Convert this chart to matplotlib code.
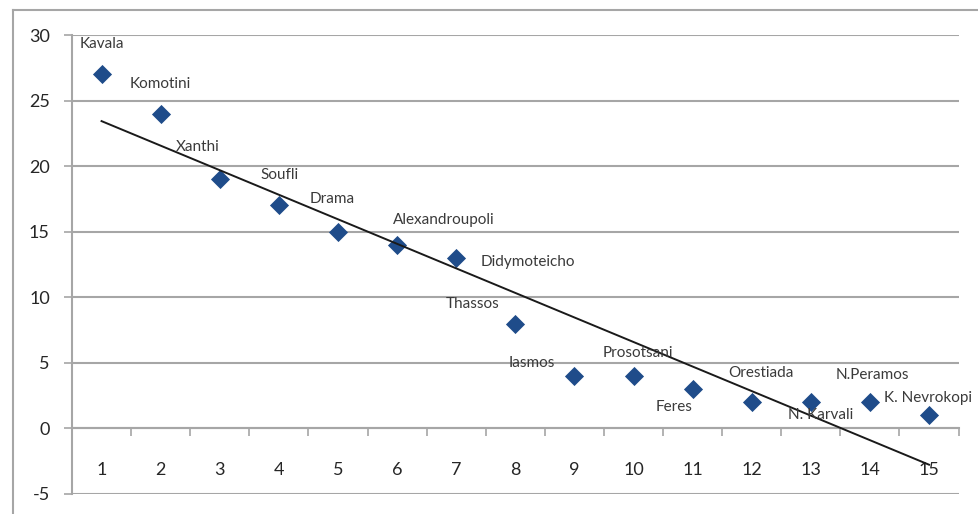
import matplotlib.pyplot as plt
from matplotlib.lines import Line2D
import numpy as np

plt.rcParams['font.family'] = ['Lato', 'DejaVu Sans']
plt.rcParams['axes.unicode_minus'] = False

# 城市与对应数值
towns = ["Kavala", "Komotini", "Xanthi", "Soufli", "Drama", "Alexandroupoli",
         "Didymoteicho", "Thassos", "Iasmos", "Prosotsani", "Feres", "Orestiada",
         "N. Karvali", "N.Peramos", "K. Nevrokopi"]
rank = np.arange(1, 16)
values = [27, 24, 19, 17, 15, 14, 13, 8, 4, 4, 3, 2, 2, 2, 1]
y_ticks = [-5, 0, 5, 10, 15, 20, 25, 30]

# 标签相对点的偏移（像素）
offsets = [(0, 30), (0, 30), (-22, 32), (1, 30), (-6, 33), (47, 25), (72, -4),
           (-43, 20), (-43, 13), (4, 23), (-19, -18), (9, 29), (10, -13),
           (2, 27), (-1, 17)]

grey = '#a6a6a6'
txt = '#3a3a3a'

fig = plt.figure(figsize=(9.79, 5.14), dpi=100)
ax = fig.add_axes([72 / 979, 1 - 494 / 514, (958.6 - 72) / 979, (494 - 35) / 514])

# 外框（左侧与顶部）
fig.add_artist(Line2D([13 / 979, 13 / 979], [0, 1 - 10 / 514], color=grey, lw=1.5, transform=fig.transFigure))
fig.add_artist(Line2D([13 / 979, 1], [1 - 10 / 514, 1 - 10 / 514], color=grey, lw=1.5, transform=fig.transFigure))

ax.scatter(rank, values, marker='D', s=95, color='#1f4c8a', zorder=3, linewidths=0)

# 线性趋势线
k, b = np.polyfit(rank, values, 1)
ax.plot([rank[0], rank[-1]], [k * rank[0] + b, k * rank[-1] + b], color='#1a1a1a', lw=1.4, zorder=4)

for i, name in enumerate(towns):
    ax.annotate(name, (rank[i], values[i]), xytext=offsets[i], textcoords='offset pixels',
                ha='center', va='center', fontsize=11, color=txt, zorder=5)

ax.set_xlim(0.5, 15.5)
ax.set_ylim(-5, 30)
ax.set_yticks(y_ticks)
ax.yaxis.grid(True, color=grey, lw=1.5)
ax.set_axisbelow(True)
ax.tick_params(axis='y', length=6, width=1.2, color=grey, labelsize=13, labelcolor='#262626', pad=10)

ax.spines['bottom'].set_position(('data', 0))
ax.spines['bottom'].set_color(grey)
ax.spines['bottom'].set_linewidth(1.5)
ax.spines['left'].set_color(grey)
ax.spines['left'].set_linewidth(1.5)
ax.spines['top'].set_visible(False)
ax.spines['right'].set_visible(False)

ax.set_xticks(np.arange(1.5, 16, 1))
ax.set_xticklabels([])
ax.set_xticks(rank, minor=True)
ax.set_xticklabels([str(r) for r in rank], minor=True)
ax.tick_params(axis='x', which='major', length=6, width=1.2, color=grey)
ax.tick_params(axis='x', which='minor', length=0, labelsize=13, labelcolor='#262626', pad=24)

fig.savefig('out.png', dpi=100)
